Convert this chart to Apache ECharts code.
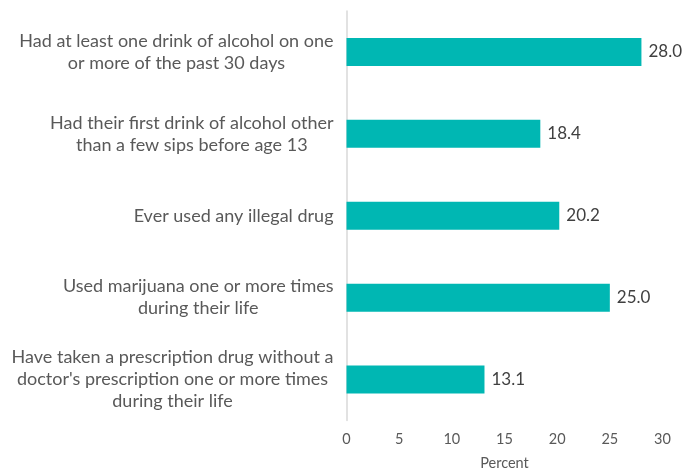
<!DOCTYPE html>
<html>
<head>
<meta charset="utf-8">
<script src="https://cdn.jsdelivr.net/npm/echarts@6/dist/echarts.min.js"></script>
<style>
  html, body { margin: 0; padding: 0; background: #ffffff; }
  #chart { width: 684px; height: 470px; }
</style>
</head>
<body>
<div id="chart"></div>
<script>
// Behaviours, each label split into its display lines
const categories = [
  ['Had at least one drink of alcohol on one', 'or more of the past 30 days'],
  ['Had their first drink of alcohol other', 'than a few sips before age 13'],
  ['Ever used any illegal drug'],
  ['Used marijuana one or more times', 'during their life'],
  ['Have taken a prescription drug without a', "doctor's prescription one or more times", 'during their life']
];
const percents = [28.0, 18.4, 20.2, 25.0, 13.1];
const xTicks = { min: 0, max: 30, interval: 5 };
const xName = 'Percent';

const FONT = 'Lato, "Open Sans", sans-serif';

const chart = echarts.init(document.getElementById('chart'), null, { renderer: 'canvas' });

chart.setOption({
  animation: false,
  grid: {
    left: 346.5, right: 21.5, top: 11, bottom: 49.5,
    containLabel: false,
    outerBoundsMode: 'none'
  },
  xAxis: {
    type: 'value',
    min: xTicks.min,
    max: xTicks.max,
    interval: xTicks.interval,
    name: xName,
    nameLocation: 'middle',
    nameGap: 35,
    nameTextStyle: { color: '#595959', fontSize: 14.5, fontFamily: FONT },
    axisLine: { show: false },
    axisTick: { show: false },
    splitLine: { show: false },
    axisLabel: { color: '#595959', fontSize: 14.5, fontFamily: FONT, margin: 11 }
  },
  yAxis: {
    type: 'category',
    inverse: true,
    data: categories.map(lines => lines.join('\n')),
    axisLine: { show: true, lineStyle: { color: '#d9d9d9', width: 1.5 } },
    axisTick: { show: false },
    splitLine: { show: false },
    axisLabel: {
      margin: 13,
      align: 'right',
      formatter: v => v.split('\n').map(s => '{c|' + s + '}').join('\n'),
      rich: {
        c: { align: 'center', color: '#595959', fontSize: 18, lineHeight: 22, fontFamily: FONT }
      }
    }
  },
  series: [{
    type: 'bar',
    data: percents,
    barWidth: 28,
    itemStyle: { color: '#00B7B3' },
    label: {
      show: true,
      position: 'right',
      distance: 7,
      color: '#404040',
      fontSize: 17,
      fontFamily: FONT,
      formatter: p => p.value.toFixed(1)
    }
  }]
});
</script>
</body>
</html>
